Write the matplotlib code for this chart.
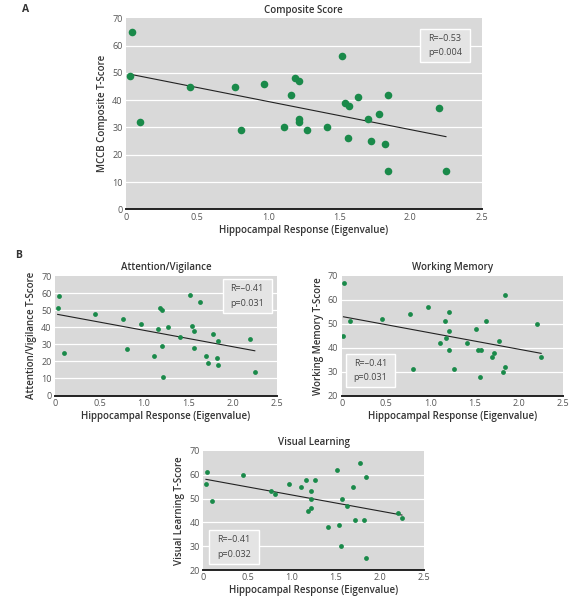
import numpy as np
import matplotlib.pyplot as plt
from matplotlib.patches import Rectangle

plt.rcParams["font.family"] = ["Open Sans", "DejaVu Sans"]

# ---- data ----
comp_x = [0.04, 0.03, 0.10, 0.45, 0.77, 0.81, 0.97, 1.11, 1.16, 1.19, 1.22, 1.22, 1.22, 1.27,
          1.41, 1.52, 1.54, 1.57, 1.56, 1.63, 1.70, 1.72, 1.78, 1.82, 1.84, 1.84, 2.20, 2.25]
comp_y = [65, 49, 32, 45, 45, 29, 46, 30, 42, 48, 47, 33, 32, 29,
          30, 56, 39, 38, 26, 41, 33, 25, 35, 24, 42, 14, 37, 14]

att_x = [0.04, 0.03, 0.10, 0.45, 0.77, 0.81, 0.97, 1.11, 1.16, 1.18, 1.21, 1.21, 1.22, 1.27,
         1.41, 1.52, 1.54, 1.57, 1.56, 1.63, 1.70, 1.72, 1.78, 1.82, 1.84, 1.84, 2.20, 2.25]
att_y = [58, 51, 25, 48, 45, 27, 42, 23, 39, 51, 50, 29, 11, 40,
         34, 59, 41, 38, 28, 55, 23, 19, 36, 22, 32, 18, 33, 14]

wm_x = [0.03, 0.02, 0.09, 0.45, 0.77, 0.81, 0.97, 1.11, 1.16, 1.18, 1.21, 1.21, 1.21, 1.27,
        1.41, 1.52, 1.54, 1.57, 1.56, 1.63, 1.70, 1.72, 1.78, 1.82, 1.84, 1.84, 2.20, 2.25]
wm_y = [67, 45, 51, 52, 54, 31, 57, 42, 51, 44, 55, 47, 39, 31,
        42, 48, 39, 39, 28, 51, 36, 38, 43, 30, 32, 62, 50, 36]

vl_x = [0.03, 0.04, 0.10, 0.45, 0.77, 0.81, 0.97, 1.11, 1.16, 1.19, 1.22, 1.22, 1.22, 1.27,
        1.41, 1.52, 1.54, 1.57, 1.56, 1.63, 1.70, 1.72, 1.78, 1.82, 1.84, 1.84, 2.20, 2.25]
vl_y = [56, 61, 49, 60, 53, 52, 56, 55, 58, 45, 46, 53, 50, 58,
        38, 62, 39, 50, 30, 47, 55, 41, 65, 41, 59, 25, 44, 42]

# regression lines (intercept, slope) and stats text
comp_fit = (49.8, -10.3)
att_fit = (47.8, -9.6)
wm_fit = (53.1, -6.85)
vl_fit = (58.3, -6.76)

comp_stats = "R=\u20130.53\np=0.004"
att_stats = "R=\u20130.41\np=0.031"
wm_stats = "R=\u20130.41\np=0.031"
vl_stats = "R=\u20130.41\np=0.032"

xticks = [0, 0.5, 1.0, 1.5, 2.0, 2.5]
xtick_labels = ["0", "0.5", "1.0", "1.5", "2.0", "2.5"]
xlabel = "Hippocampal Response (Eigenvalue)"

BG = "#d9d9d9"
GREEN = "#1a8a4a"
TXT = "#333333"
TICK = "#555555"

fig = plt.figure(figsize=(5.81, 5.99), dpi=100)
W, H = 581, 599


def px_axes(left, top, right, bottom):
    return fig.add_axes([left / W, 1 - bottom / H, (right - left) / W, (bottom - top) / H])


def panel(ax, xs, ys, fit, stats, title, ylabel, ylim, box, msize, fs):
    ax.set_facecolor(BG)
    ax.set_xlim(0, 2.5)
    ax.set_ylim(*ylim)
    yt = np.arange(ylim[0], ylim[1] + 1, 10)
    ax.set_yticks(yt)
    ax.set_xticks(xticks)
    ax.set_xticklabels(xtick_labels)
    for y in yt[1:-1]:
        ax.axhline(y, color="white", lw=0.9, zorder=1)
    for s in ["top", "right", "left"]:
        ax.spines[s].set_visible(False)
    ax.spines["bottom"].set_color("#222222")
    ax.spines["bottom"].set_linewidth(1.4)
    ax.tick_params(length=0, pad=2.5, labelsize=fs - 0.5, labelcolor=TICK)

    ax.scatter(xs, ys, s=msize, color=GREEN, zorder=3, linewidths=0)
    lx = np.array([min(xs), max(xs)])
    ax.plot(lx, fit[0] + fit[1] * lx, color="#222222", lw=0.8, zorder=2)

    x0, y0, x1, y1 = box
    ax.add_patch(Rectangle((x0, y0), x1 - x0, y1 - y0, transform=ax.transAxes,
                           facecolor="#e4e4e4", edgecolor="white", lw=1.0, zorder=4))
    ax.text((x0 + x1) / 2, (y0 + y1) / 2, stats, transform=ax.transAxes, ha="center",
            va="center", multialignment="left", fontsize=fs - 0.5, color="#444444",
            linespacing=1.8, zorder=5)

    ax.set_title(title, fontsize=fs, fontweight="semibold", color=TXT, pad=4)
    ax.set_xlabel(xlabel, fontsize=fs, fontweight="semibold", color=TXT, labelpad=2)
    ax.set_ylabel(ylabel, fontsize=fs, fontweight="semibold", color=TXT, labelpad=3)


ax_a = px_axes(126, 18.3, 481.5, 209.3)
panel(ax_a, comp_x, comp_y, comp_fit, comp_stats, "Composite Score",
      "MCCB Composite T-Score", (0, 70), (0.828, 0.771, 0.969, 0.944), 30, 7)

ax_b1 = px_axes(55, 276, 277, 395.5)
panel(ax_b1, att_x, att_y, att_fit, att_stats, "Attention/Vigilance",
      "Attention/Vigilance T-Score", (0, 70), (0.755, 0.693, 0.976, 0.972), 12, 7)

ax_b2 = px_axes(341.7, 276, 563.3, 395.7)
panel(ax_b2, wm_x, wm_y, wm_fit, wm_stats, "Working Memory",
      "Working Memory T-Score", (20, 70), (0.019, 0.070, 0.242, 0.348), 12, 7)

ax_b3 = px_axes(203.3, 451, 424, 570)
panel(ax_b3, vl_x, vl_y, vl_fit, vl_stats, "Visual Learning",
      "Visual Learning T-Score", (20, 70), (0.027, 0.048, 0.254, 0.336), 12, 7)

fig.text(26 / W, 1 - 9.5 / H, "A", fontsize=7.5, fontweight="bold", color=TXT, ha="center", va="center")
fig.text(19 / W, 1 - 255 / H, "B", fontsize=7.5, fontweight="bold", color=TXT, ha="center", va="center")

fig.savefig("out.png", dpi=100, facecolor="white")
